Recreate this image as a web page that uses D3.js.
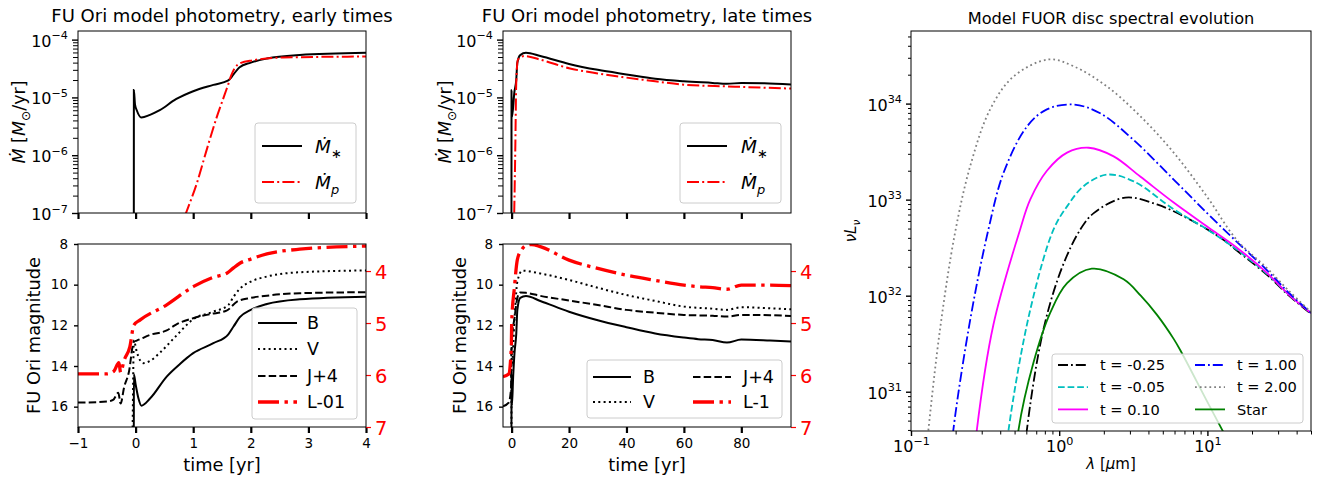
<!DOCTYPE html>
<html>
<head>
<meta charset="utf-8">
<script src="https://cdn.jsdelivr.net/npm/d3@7"></script>
<style>
  body { margin: 0; background: #fff; }
  svg text { font-family: "DejaVu Sans", sans-serif; }
</style>
</head>
<body>
<div id="vis"></div>
<script>
// ---- early times, accretion rates [t (yr), Mdot (Msun/yr)]
const earlyMdotStar = [[-1, 1e-8], [-0.031, 1e-8], [-0.03, 1.35e-5], [-0.01, 7.5e-6], [0.02, 6.0e-6],
  [0.1, 4.5e-6], [0.25, 5.0e-6], [0.42, 6.0e-6], [0.7, 9.3e-6], [1.0, 1.28e-5], [1.35, 1.65e-5],
  [1.61, 1.97e-5], [1.7, 2.5e-5], [1.8, 3.3e-5], [2.0, 4.0e-5], [2.28, 4.7e-5], [2.85, 5.4e-5], [4.0, 5.9e-5]];
const earlyMdotP = [[0.6, 2e-8], [0.875, 1e-7], [1.06, 3.2e-7], [1.23, 1.2e-6], [1.41, 4.6e-6],
  [1.55, 1.15e-5], [1.61, 1.7e-5], [1.66, 2.4e-5], [1.72, 3.2e-5], [1.81, 3.9e-5], [2.04, 4.4e-5],
  [2.56, 4.9e-5], [4.0, 5.1e-5]];

// ---- early times, magnitudes [t, mag]; L is on the right axis
const earlyB = [[-1, 18], [-0.031, 18], [-0.03, 14.4], [0.0, 14.9], [0.05, 15.6], [0.1, 15.95], [0.25, 15.6],
  [0.54, 14.52], [0.77, 13.9], [1.0, 13.37], [1.35, 12.88], [1.61, 12.44], [1.7, 12.06], [1.81, 11.6],
  [2.0, 11.24], [2.28, 10.95], [2.85, 10.72], [4.0, 10.59]];
const earlyV = [[-1, 18], [-0.06, 18], [-0.03, 12.75], [0.02, 13.3], [0.13, 13.86], [0.25, 13.75],
  [0.42, 13.35], [0.71, 12.5], [1.0, 11.7], [1.35, 11.33], [1.61, 11.0], [1.7, 10.6], [1.81, 10.2],
  [2.0, 9.85], [2.28, 9.6], [2.85, 9.39], [4.0, 9.3]];
const earlyJ = [[-1, 15.8], [-0.5, 15.75], [-0.39, 15.67], [-0.3, 15.32], [-0.26, 15.85], [-0.2, 15.05],
  [-0.11, 14.2], [-0.05, 13.0], [-0.03, 12.8], [0.02, 12.75], [0.25, 12.47], [0.54, 12.25], [0.71, 11.95],
  [1.0, 11.65], [1.29, 11.45], [1.58, 11.28], [1.76, 10.83], [2.0, 10.65], [2.28, 10.54], [2.85, 10.42], [4.0, 10.37]];
const earlyL = [[-1, 5.98], [-0.5, 5.98], [-0.38, 5.93], [-0.29, 5.76], [-0.26, 5.95], [-0.2, 5.72],
  [-0.1, 5.46], [-0.03, 5.04], [0.08, 4.94], [0.54, 4.65], [1.0, 4.3], [1.35, 4.12], [1.6, 4.03],
  [1.7, 3.94], [1.81, 3.85], [2.0, 3.77], [2.28, 3.67], [2.85, 3.58], [4.0, 3.52]];

// ---- late times
const lateMdotStar = [[-3, 1e-8], [-0.06, 1e-8], [-0.03, 1.35e-5], [0.1, 4.5e-6], [1.0, 1.28e-5], [1.6, 1.97e-5],
  [2.0, 4.0e-5], [3.0, 5.4e-5], [5, 5.9e-5], [10, 5.2e-5], [20, 3.8e-5], [30, 3.0e-5], [40, 2.5e-5],
  [50, 2.1e-5], [60, 1.9e-5], [70, 1.78e-5], [75, 1.72e-5], [80, 1.78e-5], [88, 1.76e-5], [97.3, 1.68e-5]];
const lateMdotP = [[0.5, 2e-8], [0.9, 1e-7], [1.3, 1.5e-6], [1.6, 1.7e-5], [2.2, 4.5e-5], [4.5, 5.2e-5],
  [10, 4.5e-5], [20, 3.2e-5], [30, 2.6e-5], [40, 2.2e-5], [50, 1.9e-5], [60, 1.66e-5], [75, 1.55e-5],
  [80, 1.52e-5], [97.3, 1.42e-5]];
const lateB = [[-3, 18], [-0.06, 18], [-0.03, 14.4], [0.1, 15.95], [0.54, 14.52], [1.0, 13.37], [1.61, 12.44],
  [2.0, 11.24], [3.0, 10.65], [5, 10.56], [10, 10.8], [20, 11.33], [30, 11.75], [40, 12.09], [50, 12.4],
  [60, 12.6], [65, 12.68], [70, 12.72], [75, 12.85], [80, 12.7], [90, 12.75], [97.3, 12.8]];
const lateV = [[-3, 18], [-0.06, 18], [-0.03, 12.75], [0.13, 13.86], [1.0, 11.7], [2.0, 9.85], [3.7, 9.31],
  [10, 9.45], [20, 9.77], [30, 10.15], [40, 10.51], [50, 10.8], [60, 11.08], [70, 11.18], [75, 11.24],
  [80, 11.11], [90, 11.16], [97.3, 11.21]];
const lateJ = [[-3, 15.98], [-1, 15.8], [-0.2, 15.1], [-0.05, 13.0], [0.02, 12.75], [1.0, 11.65], [2.0, 10.65],
  [3.0, 10.38], [5, 10.4], [10, 10.55], [20, 10.78], [30, 11.0], [40, 11.24], [50, 11.38], [60, 11.49],
  [70, 11.53], [75, 11.57], [80, 11.49], [90, 11.5], [97.3, 11.54]];
const lateL = [[-3, 6.03], [-1, 5.98], [-0.1, 5.46], [0.02, 5.0], [1.0, 4.3], [2.0, 3.78], [3.4, 3.6], [5, 3.51],
  [7, 3.49], [10, 3.53], [20, 3.79], [30, 3.95], [40, 4.08], [50, 4.18], [60, 4.27], [65, 4.3], [70, 4.32],
  [75, 4.35], [80, 4.27], [90, 4.27], [97.3, 4.28]];

// ---- disc spectra [lambda (micron), nu L_nu]
const sedM025 = [[0.562, 1e30], [0.605, 3.98e30], [0.783, 4.47e31], [1.05, 2.0e32], [1.39, 4.9e32], [1.71, 7.24e32],
  [2.79, 1.05e33], [4.57, 8.91e32], [7.67, 6.17e32], [12.9, 3.8e32], [15.8, 2.95e32], [25.1, 1.66e32],
  [35.5, 1.0e32], [50, 6.46e31]];
const sedM005 = [[0.417, 1e30], [0.455, 3.98e30], [0.637, 7.08e31], [0.916, 4.9e32], [1.13, 8.51e32],
  [1.46, 1.38e33], [2.10, 1.82e33], [3.18, 1.55e33], [5.92, 7.94e32], [9.95, 4.9e32], [15.8, 3.02e32],
  [25.1, 1.70e32], [35.5, 1.02e32], [50, 6.61e31]];
const sed010 = [[0.257, 1e30], [0.278, 3.98e30], [0.36, 5.01e31], [0.545, 4.9e32], [0.637, 1.0e33],
  [0.826, 2.0e33], [1.13, 3.09e33], [1.58, 3.47e33], [2.33, 2.82e33], [3.52, 1.74e33], [5.92, 9.33e32],
  [9.95, 5.25e32], [15.8, 3.16e32], [25.1, 1.74e32], [35.5, 1.02e32], [50, 6.61e31]];
const sed100 = [[0.178, 1e30], [0.193, 3.98e30], [0.251, 5.62e31], [0.333, 4.9e32], [0.421, 1.9e33],
  [0.605, 5.75e33], [0.826, 8.71e33], [1.25, 9.77e33], [1.89, 7.94e33], [3.18, 4.17e33], [5.92, 1.62e33],
  [9.95, 7.24e32], [15.8, 3.63e32], [25.1, 1.86e32], [35.5, 1.07e32], [50, 6.61e31]];
const sed200 = [[0.12, 1e30], [0.131, 3.98e30], [0.157, 4.47e31], [0.198, 4.47e32], [0.251, 2.24e33],
  [0.342, 8.71e33], [0.491, 1.91e34], [0.847, 2.88e34], [1.25, 2.45e34], [2.10, 1.51e34], [3.52, 7.41e33],
  [5.92, 3.09e33], [9.95, 1.07e33], [15.8, 3.8e32], [25.1, 1.95e32], [35.5, 1.12e32], [50, 6.76e31]];
const sedStar = [[0.49, 1e30], [0.531, 3.98e30], [0.67, 2.0e31], [0.869, 6.61e31], [1.13, 1.35e32],
  [1.66, 1.91e32], [2.72, 1.48e32], [3.55, 1.0e32], [4.57, 6.31e31], [5.92, 3.55e31], [6.58, 2.69e31],
  [9.95, 7.94e30], [12.9, 3.72e30], [15.8, 2.0e30]];

const earlyTicks = [-1, 0, 1, 2, 3, 4];
const lateTicks = [0, 20, 40, 60, 80];
const magTicks = [8, 10, 12, 14, 16];
const lumTicks = [4, 5, 6, 7];
const mdotTicks = [1e-7, 1e-6, 1e-5, 1e-4];
const lamTicks = [0.1, 1, 10];
const sedTicks = [1e31, 1e32, 1e33, 1e34];

const svg = d3.select("#vis").append("svg").attr("width", 1326).attr("height", 481);

// scales
const xEarly = d3.scaleLinear().domain([-1, 4]).range([78, 366]);
const xLate = d3.scaleLinear().domain([-3, 97.3]).range([503, 791]);
const yMdot = d3.scaleLog().domain([1e-7, 1.41e-4]).range([213, 31]);
const yMag = d3.scaleLinear().domain([8, 17]).range([244, 427]);
const yLum = d3.scaleLinear().domain([3.48, 7]).range([244, 427]);
const xLam = d3.scaleLog().domain([0.1, 50]).range([911, 1311]);
const ySed = d3.scaleLog().domain([3.9e30, 5.7e34]).range([431, 31]);

function box(xs, ys) {
  const [xa, xb] = xs.range(), [ya, yb] = ys.range();
  return { x: Math.min(xa, xb), y: Math.min(ya, yb), w: Math.abs(xb - xa), h: Math.abs(yb - ya) };
}

let clipCount = 0;
function clipFor(xs, ys) {
  const id = "clip" + clipCount++;
  const b = box(xs, ys);
  svg.append("clipPath").attr("id", id).append("rect")
    .attr("x", b.x).attr("y", b.y).attr("width", b.w).attr("height", b.h);
  return `url(#${id})`;
}

function drawLine(data, xs, ys, clip, color, width, dash, curve) {
  svg.append("path")
    .datum(data)
    .attr("clip-path", clip)
    .attr("fill", "none")
    .attr("stroke", color)
    .attr("stroke-width", width)
    .attr("stroke-dasharray", dash || null)
    .attr("d", d3.line().x((d) => xs(d[0])).y((d) => ys(d[1])).curve(curve || d3.curveMonotoneX));
}

function frame(xs, ys) {
  const b = box(xs, ys);
  svg.append("rect").attr("x", b.x).attr("y", b.y).attr("width", b.w).attr("height", b.h)
    .attr("fill", "none").attr("stroke", "#000").attr("stroke-width", 1);
}

// text made of pieces: italic, subscript, superscript
function rich(text, parts, size) {
  let shift = 0;
  parts.forEach((p) => {
    const small = p.sub || p.sup;
    const target = p.sub ? size * 0.28 : p.sup ? -size * 0.45 : 0;
    text.append("tspan")
      .attr("dy", target - shift)
      .style("font-size", (small ? size * 0.7 : size) + "px")
      .style("font-style", p.it ? "italic" : null)
      .text(p.t);
    shift = target;
  });
  return text;
}

function powLabel(v) {
  const e = Math.round(Math.log10(v));
  return [{ t: "10" }, { t: (e < 0 ? "\u2212" + -e : "" + e), sup: true }];
}

function styleAxis(g, size, color, tickWidth) {
  g.select(".domain").remove();
  g.attr("font-family", null);
  g.selectAll(".tick line").attr("stroke", color || "#000").attr("stroke-width", tickWidth || 1);
  g.selectAll("text").style("font-size", size + "px").attr("fill", color || "#000");
}

function xAxisLinear(xs, y, ticks, labels) {
  const g = svg.append("g").attr("transform", `translate(0,${y})`)
    .call(d3.axisBottom(xs).tickValues(ticks).tickSize(6).tickPadding(5)
      .tickFormat(labels ? d3.format("") : ""));
  styleAxis(g, 13.5, "#000", 2.2);
}

function yAxisLinear(ys, x, ticks) {
  const g = svg.append("g").attr("transform", `translate(${x},0)`)
    .call(d3.axisLeft(ys).tickValues(ticks).tickSize(4).tickPadding(6).tickFormat(d3.format("")));
  styleAxis(g, 13.5, "#000", 1.4);
}

function yAxisRight(ys, x, ticks) {
  const g = svg.append("g").attr("transform", `translate(${x},0)`)
    .call(d3.axisRight(ys).tickValues(ticks).tickSize(5).tickPadding(4).tickFormat(d3.format("")));
  styleAxis(g, 19.5, "red", 1.2);
  g.selectAll("text").attr("dy", "0.36em");
}

function minorsBetween(lo, hi) {
  const out = [];
  for (let e = Math.floor(Math.log10(lo)); e <= Math.ceil(Math.log10(hi)); e++) {
    for (let m = 2; m <= 9; m++) {
      const v = m * Math.pow(10, e);
      if (v >= lo * 0.999 && v <= hi * 1.001) out.push(v);
    }
  }
  return out;
}

function yAxisLog(ys, x, ticks, size, majorLen, minorLen) {
  const [lo, hi] = ys.domain();
  const gm = svg.append("g").attr("transform", `translate(${x},0)`)
    .call(d3.axisLeft(ys).tickValues(minorsBetween(lo, hi)).tickSize(minorLen).tickFormat(""));
  styleAxis(gm, size, "#000", 1);
  const g = svg.append("g").attr("transform", `translate(${x},0)`)
    .call(d3.axisLeft(ys).tickValues(ticks).tickSize(majorLen).tickPadding(5).tickFormat(""));
  styleAxis(g, size, "#000", 1.4);
  g.selectAll(".tick").each(function (d) {
    const t = d3.select(this).append("text").attr("x", -majorLen - 4).attr("y", size * 0.4)
      .attr("text-anchor", "end").attr("fill", "#000");
    rich(t, powLabel(d), size);
  });
}

function xAxisLog(xs, y, ticks, size) {
  const [lo, hi] = xs.domain();
  const gm = svg.append("g").attr("transform", `translate(0,${y})`)
    .call(d3.axisBottom(xs).tickValues(minorsBetween(lo, hi)).tickSize(3.5).tickFormat(""));
  styleAxis(gm, size, "#000", 1);
  const g = svg.append("g").attr("transform", `translate(0,${y})`)
    .call(d3.axisBottom(xs).tickValues(ticks).tickSize(5).tickFormat(""));
  styleAxis(g, size, "#000", 1.4);
  g.selectAll(".tick").each(function (d) {
    const t = d3.select(this).append("text").attr("y", 21).attr("text-anchor", "middle").attr("fill", "#000");
    rich(t, powLabel(d), size);
  });
}

function yLabel(x, y, parts, size) {
  const t = svg.append("text").attr("transform", `translate(${x},${y}) rotate(-90)`)
    .attr("text-anchor", "middle").attr("fill", "#000");
  rich(t, parts, size);
}

function textAt(x, y, parts, size, anchor, color) {
  const t = svg.append("text").attr("x", x).attr("y", y).attr("text-anchor", anchor || "start")
    .attr("fill", color || "#000");
  rich(t, parts, size);
}

function legendBox(x, y, w, h) {
  svg.append("rect").attr("x", x).attr("y", y).attr("width", w).attr("height", h).attr("rx", 3)
    .attr("fill", "#fff").attr("fill-opacity", 0.8).attr("stroke", "#ccc").attr("stroke-width", 1);
}

function legendEntry(x0, x1, y, color, width, dash, tx, parts, size) {
  svg.append("line").attr("x1", x0).attr("x2", x1).attr("y1", y).attr("y2", y)
    .attr("stroke", color).attr("stroke-width", width).attr("stroke-dasharray", dash || null);
  textAt(tx, y + size * 0.36, parts, size);
}

const DASHDOT = "12,3.2,2,3.2";
const mdotStarParts = [{ t: "\u1E40", it: true }, { t: "\u2217", sub: true }];
const mdotPParts = [{ t: "\u1E40", it: true }, { t: "p", sub: true, it: true }];
const mdotLabel = [{ t: "\u1E40", it: true }, { t: " [" }, { t: "M", it: true }, { t: "\u2299", sub: true }, { t: "/yr]" }];
const magLabel = [{ t: "FU Ori magnitude" }];

// ================= panel 1: early times =================
textAt(222, 21.5, [{ t: "FU Ori model photometry, early times" }], 18, "middle");

let c = clipFor(xEarly, yMdot);
drawLine(earlyMdotStar, xEarly, yMdot, c, "#000", 2);
drawLine(earlyMdotP, xEarly, yMdot, c, "red", 2, DASHDOT);
xAxisLinear(xEarly, 213, earlyTicks, false);
yAxisLog(yMdot, 78, mdotTicks, 16, 6, 5);
frame(xEarly, yMdot);
yLabel(25, 122, mdotLabel, 17.5);
legendBox(255, 123, 101, 80);
legendEntry(262, 302, 146, "#000", 2, null, 315, mdotStarParts, 18.5);
legendEntry(262, 302, 182, "red", 2, DASHDOT, 315, mdotPParts, 18.5);

c = clipFor(xEarly, yMag);
drawLine(earlyB, xEarly, yMag, c, "#000", 2);
drawLine(earlyV, xEarly, yMag, c, "#000", 2, "2,3.3");
drawLine(earlyJ, xEarly, yMag, c, "#000", 2, "7.5,3.2");
drawLine(earlyL, xEarly, yLum, c, "red", 3.3, "21,5.5,3.4,5.5");
xAxisLinear(xEarly, 427, earlyTicks, true);
yAxisLinear(yMag, 78, magTicks);
yAxisRight(yLum, 366, lumTicks);
frame(xEarly, yMag);
yLabel(40, 335.5, magLabel, 17.8);
textAt(222, 471, [{ t: "time [yr]" }], 17.8, "middle");
legendBox(252, 308, 105, 111);
legendEntry(258, 297, 323, "#000", 2, null, 307, [{ t: "B" }], 17.5);
legendEntry(258, 297, 349, "#000", 2, "2,3.3", 307, [{ t: "V" }], 17.5);
legendEntry(258, 297, 376, "#000", 2, "7.5,3.2", 307, [{ t: "J+4" }], 17.5);
legendEntry(258, 297, 402, "red", 3.3, "21,5.5,3.4,5.5", 307, [{ t: "L-01" }], 17.5);

// ================= panel 2: late times =================
textAt(647, 21.5, [{ t: "FU Ori model photometry, late times" }], 18, "middle");

c = clipFor(xLate, yMdot);
drawLine(lateMdotStar, xLate, yMdot, c, "#000", 2);
drawLine(lateMdotP, xLate, yMdot, c, "red", 2, DASHDOT);
xAxisLinear(xLate, 213, lateTicks, false);
yAxisLog(yMdot, 503, mdotTicks, 16, 6, 5);
frame(xLate, yMdot);
yLabel(451, 122, mdotLabel, 17.5);
legendBox(680, 123, 101, 80);
legendEntry(687, 727, 146, "#000", 2, null, 741, mdotStarParts, 18.5);
legendEntry(687, 727, 182, "red", 2, DASHDOT, 741, mdotPParts, 18.5);

c = clipFor(xLate, yMag);
drawLine(lateB, xLate, yMag, c, "#000", 2);
drawLine(lateV, xLate, yMag, c, "#000", 2, "2,3.3");
drawLine(lateJ, xLate, yMag, c, "#000", 2, "7.5,3.2");
drawLine(lateL, xLate, yLum, c, "red", 3.3, "21,5.5,3.4,5.5");
xAxisLinear(xLate, 427, lateTicks, true);
yAxisLinear(yMag, 503, magTicks);
yAxisRight(yLum, 791, lumTicks);
frame(xLate, yMag);
yLabel(466, 335.5, magLabel, 17.8);
textAt(647, 471, [{ t: "time [yr]" }], 17.8, "middle");
legendBox(587, 360, 195, 58);
legendEntry(593, 631, 377, "#000", 2, null, 643, [{ t: "B" }], 17.5);
legendEntry(593, 631, 402, "#000", 2, "2,3.3", 643, [{ t: "V" }], 17.5);
legendEntry(693, 731, 377, "#000", 2, "7.5,3.2", 743, [{ t: "J+4" }], 17.5);
legendEntry(693, 731, 402, "red", 3.3, "21,5.5,3.4,5.5", 743, [{ t: "L-1" }], 17.5);

// ================= panel 3: spectra =================
textAt(1111, 23.5, [{ t: "Model FUOR disc spectral evolution" }], 16.2, "middle");

const sedStyles = [
  { data: sedM025, color: "#000", dash: "10,3,1.8,3", label: "t = -0.25" },
  { data: sedM005, color: "#00bfbf", dash: "6.7,2.9", label: "t = -0.05" },
  { data: sed010, color: "#ff00ff", dash: null, label: "t = 0.10" },
  { data: sed100, color: "#0000ff", dash: "10,3,1.8,3", label: "t = 1.00" },
  { data: sed200, color: "#808080", dash: "1.8,3", label: "t = 2.00" },
  { data: sedStar, color: "#008000", dash: null, label: "Star" },
];
c = clipFor(xLam, ySed);
sedStyles.forEach((s) => drawLine(s.data, xLam, ySed, c, s.color, 1.8, s.dash, d3.curveCatmullRom.alpha(0.5)));
xAxisLog(xLam, 431, lamTicks, 16);
yAxisLog(ySed, 911, sedTicks, 16, 5, 3);
frame(xLam, ySed);
yLabel(856, 231, [{ t: "\u03BD", it: true }, { t: "L", it: true }, { t: "\u03BD", sub: true, it: true }], 15);
textAt(1111, 469, [{ t: "\u03BB", it: true }, { t: " [" }, { t: "\u03BC", it: true }, { t: "m]" }], 15, "middle");
legendBox(1052, 354, 251, 69);
sedStyles.forEach((s, i) => {
  const col = Math.floor(i / 3), row = i % 3;
  const x0 = col ? 1195 : 1058;
  legendEntry(x0, x0 + 30, 365 + row * 22.2, s.color, 1.8, s.dash, x0 + 42, [{ t: s.label }], 14.6);
});
</script>
</body>
</html>
